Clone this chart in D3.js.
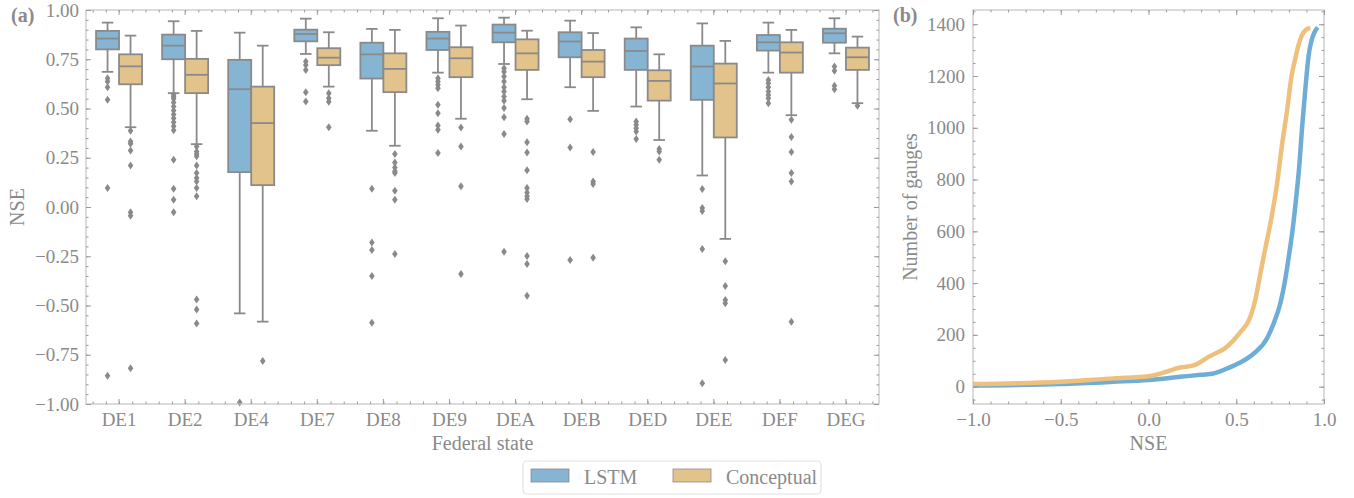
<!DOCTYPE html>
<html>
<head>
<meta charset="utf-8">
<script src="https://cdn.jsdelivr.net/npm/d3@7"></script>
<style>
  body { margin: 0; background: #fff; }
  svg { display: block; font-family: "Liberation Serif", "DejaVu Serif", serif; }
</style>
</head>
<body>
<div id="chart"></div>
<script>
// federal states on the x axis
const categories = ['DE1', 'DE2', 'DE4', 'DE7', 'DE8', 'DE9', 'DEA', 'DEB', 'DED', 'DEE', 'DEF', 'DEG']
const seriesNames = ['LSTM', 'Conceptual']

// box stats per state: [lower whisker, q1, median, q3, upper whisker]
const lstmStats = [
  [0.686, 0.800, 0.855, 0.894, 0.936],
  [0.578, 0.750, 0.819, 0.875, 0.943],
  [-0.540, 0.177, 0.598, 0.747, 0.885],
  [0.777, 0.841, 0.878, 0.900, 0.956],
  [0.387, 0.652, 0.775, 0.834, 0.904],
  [0.682, 0.797, 0.855, 0.889, 0.958],
  [0.726, 0.836, 0.885, 0.926, 0.961],
  [0.608, 0.760, 0.840, 0.887, 0.946],
  [0.510, 0.696, 0.792, 0.855, 0.912],
  [0.160, 0.544, 0.713, 0.819, 0.932],
  [0.682, 0.794, 0.836, 0.873, 0.936],
  [0.780, 0.834, 0.882, 0.905, 0.958]
]
const conceptualStats = [
  [0.405, 0.623, 0.714, 0.775, 0.870],
  [0.319, 0.578, 0.671, 0.752, 0.894],
  [-0.582, 0.111, 0.426, 0.611, 0.819],
  [0.611, 0.720, 0.758, 0.806, 0.887],
  [0.311, 0.583, 0.701, 0.780, 0.899],
  [0.448, 0.659, 0.755, 0.811, 0.921],
  [0.547, 0.696, 0.780, 0.851, 0.895],
  [0.488, 0.659, 0.738, 0.797, 0.883],
  [0.340, 0.540, 0.640, 0.694, 0.775],
  [-0.162, 0.353, 0.627, 0.728, 0.843],
  [0.466, 0.682, 0.784, 0.836, 0.899],
  [0.527, 0.696, 0.760, 0.809, 0.865]
]

// fliers per state
const lstmOutliers = [
  [0.654, 0.637, 0.608, 0.544, 0.096, -0.856],
  [0.57, 0.56, 0.55, 0.53, 0.51, 0.49, 0.47, 0.45, 0.43, 0.41, 0.39, 0.24, 0.093, 0.037, -0.027],
  [-0.993],
  [0.738, 0.721, 0.696, 0.583, 0.535],
  [0.093, -0.18, -0.218, -0.35, -0.587],
  [0.654, 0.637, 0.62, 0.603, 0.519, 0.476, 0.414, 0.392, 0.274],
  [0.704, 0.687, 0.662, 0.637, 0.608, 0.586, 0.561, 0.539, 0.502, 0.456, 0.37, -0.227],
  [0.446, 0.302, -0.269],
  [0.434, 0.417, 0.4, 0.383, 0.345],
  [0.091, -0.005, -0.02, -0.213, -0.895],
  [0.645, 0.628, 0.608, 0.586, 0.569, 0.552, 0.527],
  [0.713, 0.691, 0.615, 0.598]
]
const conceptualOutliers = [
  [0.387, 0.333, 0.321, 0.287, 0.211, -0.027, -0.044, -0.819],
  [0.307, 0.282, 0.269, 0.257, 0.211, 0.172, 0.147, 0.13, 0.096, 0.054, -0.469, -0.52, -0.592],
  [-0.782],
  [0.578, 0.552, 0.534, 0.405],
  [0.269, 0.226, 0.201, 0.181, 0.172, 0.083, 0.037, -0.239],
  [0.404, 0.307, 0.105, -0.34],
  [0.448, 0.434, 0.329, 0.277, 0.186, 0.096, 0.074, 0.054, 0.041, -0.249, -0.289, -0.45],
  [0.279, 0.13, 0.117, -0.257],
  [0.294, 0.282, 0.24],
  [-0.276, -0.401, -0.472, -0.489, -0.777],
  [0.443, 0.355, 0.279, 0.172, 0.13, -0.582],
  [0.514]
]

// cumulative number of gauges: [NSE, count]
const lstmCdf = [
  [-1.0, 4], [-0.5, 10], [-0.2, 19], [0.0, 26], [0.18, 38], [0.3, 46], [0.37, 51],
  [0.447, 70], [0.52, 92], [0.6, 128], [0.675, 186], [0.713, 244], [0.751, 321],
  [0.778, 410], [0.8, 505], [0.82, 600], [0.84, 720], [0.86, 860], [0.875, 1000],
  [0.895, 1160], [0.913, 1282], [0.93, 1340], [0.945, 1368], [0.964, 1388]
]
const conceptualCdf = [
  [-1.0, 10], [-0.5, 19], [-0.2, 32], [0.0, 40], [0.085, 54], [0.18, 74], [0.257, 82],
  [0.35, 118], [0.447, 154], [0.52, 208], [0.58, 269], [0.61, 340], [0.637, 436],
  [0.665, 532], [0.7, 650], [0.732, 782], [0.76, 930], [0.789, 1064], [0.815, 1200],
  [0.837, 1269], [0.855, 1320], [0.875, 1359], [0.9, 1380], [0.922, 1386]
]

const yTicksA = [-1, -0.75, -0.5, -0.25, 0, 0.25, 0.5, 0.75, 1]
const xTicksB = [-1, -0.5, 0, 0.5, 1]
const yTicksB = [0, 200, 400, 600, 800, 1000, 1200, 1400]

const boxColors = ['#86b4d3', '#e2c38b']
const lineColors = ['#6eaed6', '#efc07c']
const edgeGray = '#8a8a8a'
const textGray = '#8a8a8a'
const frameGray = '#c4c4c4'

const width = 1354
const height = 498

const svg = d3.select('#chart').append('svg')
  .attr('width', width)
  .attr('height', height)

// ---------- panel (a) ----------
const a = { left: 86, right: 879, top: 10, bottom: 404 }

const x = d3.scaleBand().domain(categories).range([a.left, a.right])
const xIdx = d3.scaleLinear().domain([-0.5, categories.length - 0.5]).range([a.left, a.right])
const y = d3.scaleLinear().domain([-1, 1]).range([a.bottom, a.top])

const gA = svg.append('g')

const boxW = 23
const offsets = [-boxW / 2, boxW / 2]

const drawSeries = (stats, outliers, s) => {
  const grp = gA.append('g').attr('class', 'series-' + s)
  const cx = d => x(d.cat) + x.bandwidth() / 2 + offsets[s]
  const rows = categories.map((cat, i) => ({ cat, st: stats[i], out: outliers[i] }))

  const box = grp.selectAll('g.box').data(rows).enter()
    .append('g').attr('class', 'box')

  // whiskers
  box.append('line')
    .attr('x1', cx).attr('x2', cx)
    .attr('y1', d => y(d.st[0])).attr('y2', d => y(d.st[1]))
    .attr('stroke', edgeGray).attr('stroke-width', 1.8)
  box.append('line')
    .attr('x1', cx).attr('x2', cx)
    .attr('y1', d => y(d.st[3])).attr('y2', d => y(d.st[4]))
    .attr('stroke', edgeGray).attr('stroke-width', 1.8)
  // caps
  ;[0, 4].forEach(k => {
    box.append('line')
      .attr('x1', d => cx(d) - boxW / 4).attr('x2', d => cx(d) + boxW / 4)
      .attr('y1', d => y(d.st[k])).attr('y2', d => y(d.st[k]))
      .attr('stroke', edgeGray).attr('stroke-width', 1.8)
  })
  // box body
  box.append('rect')
    .attr('x', d => cx(d) - boxW / 2)
    .attr('width', boxW)
    .attr('y', d => y(d.st[3]))
    .attr('height', d => y(d.st[1]) - y(d.st[3]))
    .attr('fill', boxColors[s])
    .attr('stroke', edgeGray).attr('stroke-width', 1.8)
  // median
  box.append('line')
    .attr('x1', d => cx(d) - boxW / 2).attr('x2', d => cx(d) + boxW / 2)
    .attr('y1', d => y(d.st[2])).attr('y2', d => y(d.st[2]))
    .attr('stroke', edgeGray).attr('stroke-width', 1.8)
  // fliers
  box.selectAll('path.flier')
    .data(d => d.out.map(v => ({ v, px: cx(d) })))
    .enter().append('path')
    .attr('class', 'flier')
    .attr('d', d => `M${d.px},${y(d.v) - 4}L${d.px + 2.8},${y(d.v)}L${d.px},${y(d.v) + 4}L${d.px - 2.8},${y(d.v)}Z`)
    .attr('fill', edgeGray)
}

drawSeries(lstmStats, lstmOutliers, 0)
drawSeries(conceptualStats, conceptualOutliers, 1)

// frame
gA.append('rect')
  .attr('x', a.left).attr('y', a.top)
  .attr('width', a.right - a.left).attr('height', a.bottom - a.top)
  .attr('fill', 'none').attr('stroke', frameGray).attr('stroke-width', 1.2)

const styleAxis = g => {
  g.select('.domain').remove()
  g.selectAll('.tick line').attr('stroke', '#9a9a9a').attr('stroke-width', 1)
  g.selectAll('.tick text')
    .attr('fill', textGray)
    .style('font-family', '"Liberation Serif", serif')
    .style('font-size', '19px')
}

const minorY = d3.range(-1, 1.0001, 0.05)
const minorXIdx = d3.range(-0.4, categories.length - 0.5, 0.2)

// y axis left with labels
gA.append('g').attr('transform', `translate(${a.left},0)`)
  .call(d3.axisLeft(y).tickValues(yTicksA).tickFormat(d3.format('.2f')).tickSizeInner(-5).tickPadding(7))
  .call(styleAxis)
// minor ticks y left/right
gA.append('g').attr('transform', `translate(${a.left},0)`)
  .call(d3.axisLeft(y).tickValues(minorY).tickFormat('').tickSizeInner(-2.5))
  .call(styleAxis)
gA.append('g').attr('transform', `translate(${a.right},0)`)
  .call(d3.axisRight(y).tickValues(yTicksA).tickFormat('').tickSizeInner(-5))
  .call(styleAxis)
gA.append('g').attr('transform', `translate(${a.right},0)`)
  .call(d3.axisRight(y).tickValues(minorY).tickFormat('').tickSizeInner(-2.5))
  .call(styleAxis)
// x axis bottom with labels
gA.append('g').attr('transform', `translate(0,${a.bottom})`)
  .call(d3.axisBottom(x).tickSizeInner(-5).tickSizeOuter(0).tickPadding(9))
  .call(styleAxis)
gA.append('g').attr('transform', `translate(0,${a.bottom})`)
  .call(d3.axisBottom(xIdx).tickValues(minorXIdx).tickFormat('').tickSizeInner(-2.5))
  .call(styleAxis)
gA.append('g').attr('transform', `translate(0,${a.top})`)
  .call(d3.axisTop(x).tickFormat('').tickSizeInner(-5).tickSizeOuter(0))
  .call(styleAxis)
gA.append('g').attr('transform', `translate(0,${a.top})`)
  .call(d3.axisTop(xIdx).tickValues(minorXIdx).tickFormat('').tickSizeInner(-2.5))
  .call(styleAxis)

gA.append('text')
  .attr('x', (a.left + a.right) / 2).attr('y', 450)
  .attr('text-anchor', 'middle')
  .attr('fill', textGray).style('font-size', '20px')
  .text('Federal state')
gA.append('text')
  .attr('transform', `translate(24,${(a.top + a.bottom) / 2}) rotate(-90)`)
  .attr('text-anchor', 'middle')
  .attr('fill', textGray).style('font-size', '20px')
  .text('NSE')
gA.append('text')
  .attr('x', 11).attr('y', 22)
  .attr('fill', textGray).style('font-size', '20px').style('font-weight', 'bold')
  .text('(a)')

// ---------- panel (b) ----------
const b = { left: 973, right: 1324, top: 10, bottom: 404 }
const xr = d3.scaleLinear().domain([-1, 1]).range([b.left, b.right])
const yr = d3.scaleLinear().domain([-67, 1455]).range([b.bottom, b.top])

const gB = svg.append('g')

gB.append('defs').append('clipPath').attr('id', 'clipB')
  .append('rect')
  .attr('x', b.left).attr('y', b.top)
  .attr('width', b.right - b.left).attr('height', b.bottom - b.top)

const line = d3.line()
  .x(d => xr(d[0]))
  .y(d => yr(d[1]))
  .curve(d3.curveMonotoneX)

const lines = gB.append('g').attr('clip-path', 'url(#clipB)')
;[lstmCdf, conceptualCdf].forEach((series, s) => {
  lines.append('path')
    .datum(series)
    .attr('d', line)
    .attr('fill', 'none')
    .attr('stroke', lineColors[s])
    .attr('stroke-width', 4.5)
    .attr('stroke-linejoin', 'round')
})

gB.append('rect')
  .attr('x', b.left).attr('y', b.top)
  .attr('width', b.right - b.left).attr('height', b.bottom - b.top)
  .attr('fill', 'none').attr('stroke', frameGray).attr('stroke-width', 1.2)

const minorXB = d3.range(-1, 1.0001, 0.1)
const minorYB = d3.range(-50, 1451, 50)

gB.append('g').attr('transform', `translate(${b.left},0)`)
  .call(d3.axisLeft(yr).tickValues(yTicksB).tickFormat(d3.format('d')).tickSizeInner(-5).tickSizeOuter(0).tickPadding(8))
  .call(styleAxis)
gB.append('g').attr('transform', `translate(${b.left},0)`)
  .call(d3.axisLeft(yr).tickValues(minorYB).tickFormat('').tickSizeInner(-2.5).tickSizeOuter(0))
  .call(styleAxis)
gB.append('g').attr('transform', `translate(${b.right},0)`)
  .call(d3.axisRight(yr).tickValues(yTicksB).tickFormat('').tickSizeInner(-5).tickSizeOuter(0))
  .call(styleAxis)
gB.append('g').attr('transform', `translate(${b.right},0)`)
  .call(d3.axisRight(yr).tickValues(minorYB).tickFormat('').tickSizeInner(-2.5).tickSizeOuter(0))
  .call(styleAxis)
gB.append('g').attr('transform', `translate(0,${b.bottom})`)
  .call(d3.axisBottom(xr).tickValues(xTicksB).tickFormat(d3.format('.1f')).tickSizeInner(-5).tickSizeOuter(0).tickPadding(9))
  .call(styleAxis)
gB.append('g').attr('transform', `translate(0,${b.bottom})`)
  .call(d3.axisBottom(xr).tickValues(minorXB).tickFormat('').tickSizeInner(-2.5).tickSizeOuter(0))
  .call(styleAxis)
gB.append('g').attr('transform', `translate(0,${b.top})`)
  .call(d3.axisTop(xr).tickValues(xTicksB).tickFormat('').tickSizeInner(-5).tickSizeOuter(0))
  .call(styleAxis)
gB.append('g').attr('transform', `translate(0,${b.top})`)
  .call(d3.axisTop(xr).tickValues(minorXB).tickFormat('').tickSizeInner(-2.5).tickSizeOuter(0))
  .call(styleAxis)

gB.append('text')
  .attr('x', (b.left + b.right) / 2).attr('y', 450)
  .attr('text-anchor', 'middle')
  .attr('fill', textGray).style('font-size', '20px')
  .text('NSE')
gB.append('text')
  .attr('transform', `translate(917,${(b.top + b.bottom) / 2}) rotate(-90)`)
  .attr('text-anchor', 'middle')
  .attr('fill', textGray).style('font-size', '20px')
  .text('Number of gauges')
gB.append('text')
  .attr('x', 893).attr('y', 22)
  .attr('fill', textGray).style('font-size', '20px').style('font-weight', 'bold')
  .text('(b)')

// ---------- legend ----------
const legend = svg.append('g')
legend.append('rect')
  .attr('x', 523).attr('y', 461).attr('width', 298).attr('height', 33)
  .attr('rx', 4).attr('fill', '#fff').attr('stroke', '#e2e2e2').attr('stroke-width', 1.2)
const legendX = [531, 673]
seriesNames.forEach((name, s) => {
  legend.append('rect')
    .attr('x', legendX[s]).attr('y', 469).attr('width', 38).attr('height', 13)
    .attr('fill', boxColors[s]).attr('stroke', edgeGray).attr('stroke-width', 0.8)
  legend.append('text')
    .attr('x', legendX[s] + 53).attr('y', 484)
    .attr('fill', textGray).style('font-size', '20px')
    .text(name)
})
</script>
</body>
</html>
